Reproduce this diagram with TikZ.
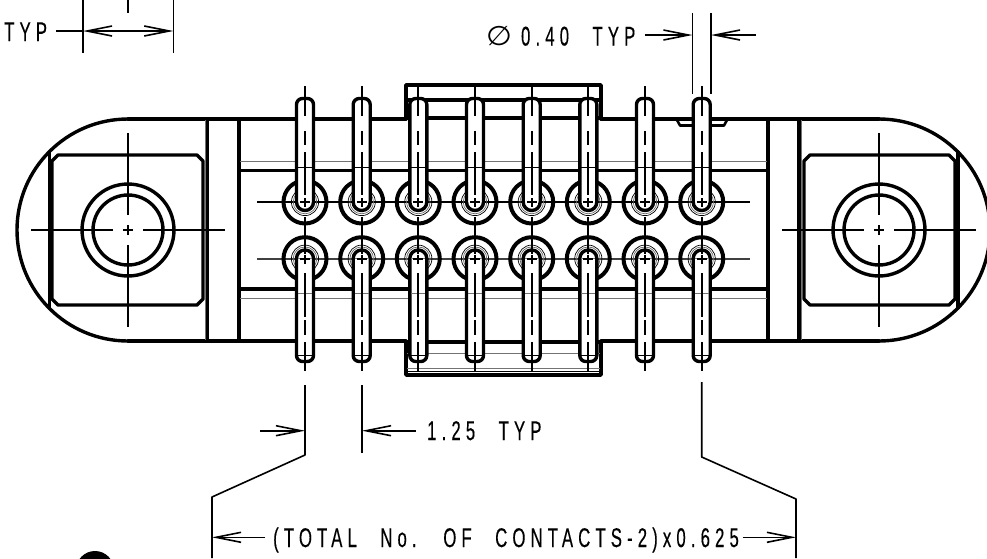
\documentclass[tikz,border=0pt]{standalone}
\usepackage{fontspec}
\usetikzlibrary{arrows.meta}
\setmainfont[FakeStretch=0.62,LetterSpace=19,WordSpace=2.4,FakeBold=0.25]{Liberation Sans}
\newfontfamily\symfont[FakeStretch=1.1]{DejaVu Sans}
\tikzset{
  thick line/.style={line width=3.4pt,line cap=round,line join=round},
  thin line/.style={line width=1.7pt},
  hair/.style={line width=0.8pt,black!55},
  fine/.style={line width=0.7pt},
  dim/.style={line width=1.6pt},
  dimtip/.tip={Straight Barb[length=25pt,width=10pt,line width=1.6pt]},
  lbl/.style={inner sep=0pt,anchor=base west,font=\fontsize{27}{27}\selectfont},
}
\begin{document}
\begin{tikzpicture}[x=1pt,y=-1pt]
\useasboundingbox (0,0) rectangle (987,558);
\clip (0,0) rectangle (987,558);
% body ends
\begin{scope}
\clip (0,100) rectangle (128,360);
\draw[thick line] (128,230) circle[radius=111pt];
\end{scope}
\begin{scope}
\clip (879,100) rectangle (1000,360);
\draw[thick line] (879,230) circle[radius=111pt];
\end{scope}
\draw[thick line] (128,119) -- (406,119) (601,119) -- (879,119);
\draw[thick line] (128,341) -- (406,341) (601,341) -- (879,341);
\draw[thick line] (406,118) -- (601,118) (406,342) -- (601,342);
% bars
\foreach \x in {207.5,239,768,799} \draw[thick line] (\x,119) -- (\x,341);
\draw[hair] (205.3,120) -- (205.3,340) (801.3,120) -- (801.3,340);
% end lines
\draw[thick line] (49.5,152) -- (49.5,308);
\draw[thick line] (958,152) -- (958,308);
% square pads
\foreach \a/\b in {52/203,804/955}
  \draw[thick line] (\a+6,155) -- (\b-6,155) -- (\b,161) -- (\b,299) -- (\b-6,305) -- (\a+6,305) -- (\a,299) -- (\a,161) -- cycle;
% mount holes
\foreach \c in {128,879} {
  \draw[thick line] (\c,230) circle[radius=46pt];
  \draw[thick line] (\c,230) circle[radius=35pt];
  \draw[thin line] (\c-97,230) -- (\c-15,230) (\c-5,230) -- (\c+5,230) (\c+15,230) -- (\c+97,230);
  \draw[thin line] (\c,133) -- (\c,215) (\c,225) -- (\c,235) (\c,245) -- (\c,327);
}
% long body lines
\draw[thick line] (239,170.7) -- (768,170.7) (239,289) -- (768,289);
\draw[hair] (240,161.7) -- (767,161.7) (240,298) -- (767,298);
% top and bottom frame
\draw[thick line] (406,119) -- (406,85) -- (601,85) -- (601,119);
\draw[thick line] (406,100) -- (601,100);
\draw[thick line] (406,342) -- (406,375) -- (601,375) -- (601,342);
\draw[hair] (407,353) -- (600,353) (407,368) -- (600,368);
\draw[fine] (407,371.5) -- (600,371.5);
% tab
\draw[line width=2.6pt,line join=round] (677,120) -- (680,125.5) -- (724,125.5) -- (727,120);
% contact holes and centre lines
\draw[line width=2pt] (257,202) -- (750,202);
\draw[thin line,black!75] (257,258.7) -- (750,258.7);
\foreach \x in {305,361.7,418.3,475,531.7,588.3,645,701.7} {
  \foreach \y in {202,258.7} {
    \draw[line width=4pt] (\x,\y) circle[radius=21.5pt];
    \draw[fine] (\x,\y) circle[radius=13.6pt];
    \draw[fine,black!60] (\x,\y) circle[radius=11.8pt];
  }
  % pins
  \draw[thick line,fill=white] (\x-8.5,150) [rounded corners=6pt] -- (\x-8.5,98.5) -- (\x+8.5,98.5) -- (\x+8.5,150) [rounded corners=8.4pt] -- (\x+8.5,210.5) -- (\x-8.5,210.5) -- (\x-8.5,150) -- cycle;
  \draw[thick line,fill=white] (\x-8.5,310) [rounded corners=8.4pt] -- (\x-8.5,250) -- (\x+8.5,250) -- (\x+8.5,310) [rounded corners=6pt] -- (\x+8.5,361.5) -- (\x-8.5,361.5) -- (\x-8.5,310) -- cycle;
  % pin details
  \draw[fine] (\x-7,167.3) -- (\x+7,167.3) (\x-7,355) -- (\x+7,355);
  \draw[hair] (\x-7,293) -- (\x+7,293) (\x-7,258.7) -- (\x+7,258.7);
  % pin centre lines
  \draw[thin line] (\x,86) -- (\x,116) (\x,131) -- (\x,145) (\x,152) -- (\x,195)
     (\x,198) -- (\x,207) (\x,217) -- (\x,254) (\x,254.5) -- (\x,263.5)
     (\x,273) -- (\x,317) (\x,320) -- (\x,335) (\x,342) -- (\x,371);
  \draw[thin line] (\x-5,202) -- (\x+5,202) (\x-5,258.7) -- (\x+5,258.7);
}
% extension lines
\coordinate (e1) at (305,455);
\coordinate (e2) at (701.7,457);
\coordinate (k1) at (212,497);
\coordinate (k2) at (796,499);
\draw[dim,line join=round] (305,385) -- (e1) -- (k1) -- (212,558);
\draw[dim,line join=round] (701.7,382) -- (e2) -- (k2) -- (796,558);
\draw[dim] (362,385) -- (362,453);
\draw[dim] (692.5,13) -- (692.5,94) (711,13) -- (711,94);
\draw[dim] (83,0) -- (83,53) (173.3,0) -- (173.3,53);
\draw[dim] (128,0) -- (128,12.5);
% labels
\node[lbl] (typ) at (4,41) {TYP};
\node[lbl] (dia) at (486,45.5) {{\symfont ∅}\kern9pt 0.40 TYP};
\node[lbl] (pitch) at (427,440) {1.25 TYP};
\node[lbl] (total) at (273,547) {(TOTAL No. OF CONTACTS-2)x0.625};
% arrows
\coordinate (t1) at (83,31);
\coordinate (t2) at (173.3,31);
\draw[dim] (56,31) -- (t1);
\draw[dim,{dimtip}-{dimtip}] (t1) -- (t2);
\coordinate (d1) at (692.5,35);
\coordinate (d2) at (711,35);
\draw[dim,-{dimtip}] (644.7,35) -- (d1);
\draw[dim,-{dimtip}] (756,35) -- (d2);
\coordinate (p1) at (305,430.7);
\coordinate (p2) at (362,430.7);
\draw[dim,-{dimtip}] (260,430.7) -- (p1);
\draw[dim,-{dimtip}] (416,430.7) -- (p2);
\coordinate (q1) at (212,537.3);
\coordinate (q2) at (796,537.3);
\draw[dim,-{dimtip}] (265,537.3) -- (q1);
\draw[dim,-{dimtip}] (742.7,537.3) -- (q2);
% bullet top
\fill (95,570) circle[radius=19pt];
\end{tikzpicture}
\end{document}
